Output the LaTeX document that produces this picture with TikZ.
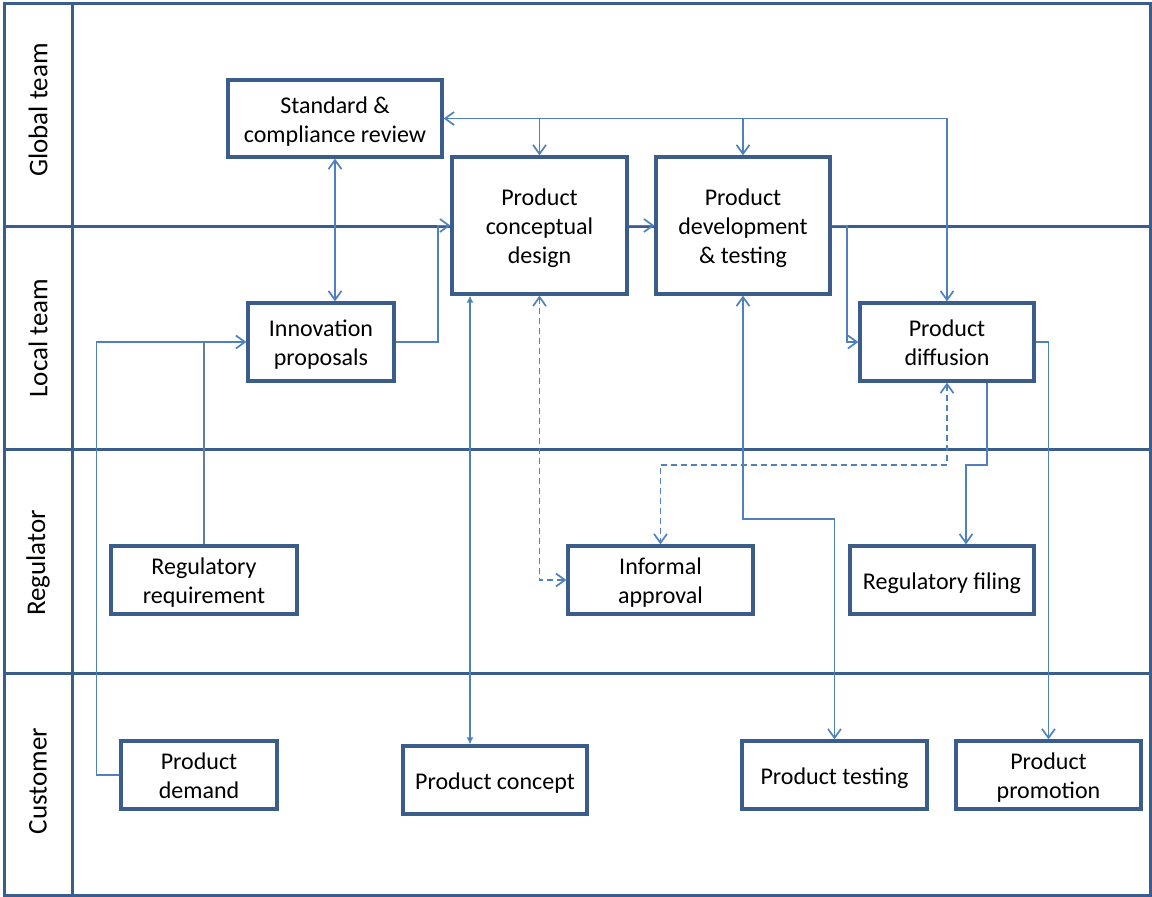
\documentclass[tikz,border=0pt]{standalone}
\usepackage{fontspec}
\setmainfont{Carlito}
\usetikzlibrary{arrows.meta}
\definecolor{boxc}{RGB}{59,93,140}
\definecolor{connc}{RGB}{79,129,189}
\definecolor{regc}{RGB}{100,125,160}
\newcommand{\bxtext}[1]{\begin{tabular}{@{}c@{}}\rule{0pt}{27pt}#1\end{tabular}}
\begin{document}
\begin{tikzpicture}[x=1pt,y=-1pt,
  >={Straight Barb[length=9pt,width=13pt]},
  box/.style={draw=boxc, line width=3.3pt, fill=white,
    font=\fontsize{24}{29}\selectfont, inner sep=0pt},
  conn/.style={draw=connc, line width=1.7pt},
  lane/.style={draw=boxc, line width=3pt},
  lanelabel/.style={rotate=90, font=\fontsize{27}{30}\selectfont, inner sep=0pt},
  filltip/.style={{Latex[length=7pt,width=7pt]}-{Latex[length=7pt,width=7pt]}}
]
\useasboundingbox (0,0) rectangle (1152,897);
\fill[white] (0,0) rectangle (1152,897);

% swimlane frame
\draw[lane] (4,3) rectangle (1150,895);
\draw[lane] (72,3) -- (72,895);
\draw[lane] (4,226) -- (1150,226);
\draw[lane] (4,449) -- (1150,449);
\draw[lane] (4,673) -- (1150,673);

\node[lanelabel] (lg) at (38,110) {Global team};
\node[lanelabel] (ll) at (38,338) {Local team};
\node[lanelabel] (lr) at (38,563) {Regulator};
\node[lanelabel] (lc) at (38,781) {Customer};

% nodes
\node[box, minimum width=214, minimum height=77] (std) at (335,118.5) {\bxtext{Standard \&\\compliance review}};
\node[box, minimum width=175, minimum height=137] (cd) at (539.5,225.5) {\bxtext{Product\\conceptual\\design}};
\node[box, minimum width=174, minimum height=137] (dev) at (743,225.5) {\bxtext{Product\\development\\\& testing}};
\node[box, minimum width=146, minimum height=78] (innov) at (321,342) {\bxtext{Innovation\\proposals}};
\node[box, minimum width=174, minimum height=78] (diff) at (947,342) {\bxtext{Product\\diffusion}};
\node[box, minimum width=186, minimum height=68] (regreq) at (204,580) {\bxtext{Regulatory\\requirement}};
\node[box, minimum width=185, minimum height=68] (informal) at (660.5,580) {\bxtext{Informal\\approval}};
\node[box, minimum width=184, minimum height=68] (filing) at (942,580) {\bxtext{Regulatory filing}};
\node[box, minimum width=156, minimum height=68] (demand) at (199,775) {\bxtext{Product\\demand}};
\node[box, minimum width=184, minimum height=68] (concept) at (495,780) {\bxtext{Product concept}};
\node[box, minimum width=185, minimum height=68] (testing) at (834.5,775) {\bxtext{Product testing}};
\node[box, minimum width=185, minimum height=68] (promo) at (1048.5,775) {\bxtext{Product\\promotion}};

% connectors
\draw[conn,<->] (diff.north) |- (std.east);
\draw[conn,->] (cd.north |- std.east) -- (cd.north);
\draw[conn,->] (dev.north |- std.east) -- (dev.north);
\draw[conn,<->] (std.south) -- (std.south |- innov.north);
\draw[conn,->] (innov.east) -- ++(42,0) |- (cd.west);
\draw[conn,->] (cd.east) -- (dev.west);
\draw[conn,->] (dev.east) -- ++(15,0) |- (diff.west);
\draw[conn,->] (diff.east) -| (promo.north);
\draw[conn,->] ([xshift=40pt]diff.south) -- ++(0,82) -| ([xshift=24pt]filing.north);
\draw[conn,dash pattern=on 6pt off 4pt,<->] (diff.south) -- ++(0,82) -| (informal.north);
\draw[conn,dash pattern=on 6pt off 4pt,<->] (cd.south) |- (informal.west);
\draw[conn,<->] (dev.south) -- ++(0,223) -| (testing.north);
\draw[conn,filltip] ([xshift=-69.5pt]cd.south) -- ([xshift=-69.5pt]cd.south |- concept.north);
\draw[conn,->] (demand.west) -- ++(-23,0) |- (innov.west);
\draw[conn,draw=regc] (regreq.north) -- (regreq.north |- innov.west);
\end{tikzpicture}
\end{document}
